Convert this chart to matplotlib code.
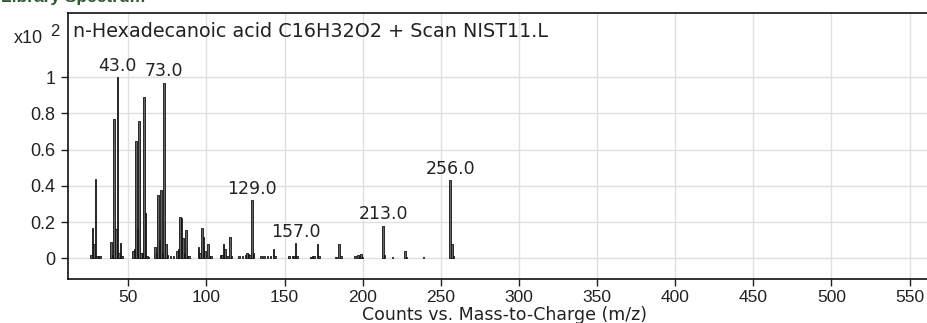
import matplotlib
matplotlib.use("Agg")
import matplotlib.pyplot as plt

# m/z values and relative intensities (%)
mz = [26, 27, 28, 29, 30, 31, 32,
      39, 40, 41, 42, 43, 44, 45, 46,
      53, 54, 55, 56, 57, 58, 59, 60, 61, 62, 63,
      67, 68, 69, 70, 71, 72, 73, 74, 75, 77, 79,
      81, 82, 83, 84, 85, 86, 87, 88, 89,
      95, 96, 97, 98, 99, 101, 102, 103,
      109, 110, 111, 112, 113, 115, 116,
      121, 123, 125, 126, 127, 128, 129, 130,
      135, 137, 139, 141, 143, 144,
      153, 155, 156, 157, 158,
      167, 168, 169, 171, 172,
      183, 185, 186,
      195, 197, 198, 199, 200,
      213, 214, 219, 227, 228, 239,
      256, 257, 258]
intensity = [2, 17, 8, 44, 1.5, 1.5, 1,
             9, 2, 77, 16, 100, 3, 8.5, 1,
             4, 5, 65, 16, 76, 3, 3, 89, 25, 1, 0.5,
             6, 3, 35, 10, 38, 3, 97, 8, 2, 1, 1,
             4, 5, 23, 22, 11, 3, 15.5, 1, 1,
             6, 3, 17, 12, 4, 8, 1, 1,
             2, 2, 7.7, 5, 1, 11.5, 1,
             1, 1.5, 2, 3, 2.5, 2, 32, 3,
             1, 1, 1.5, 1, 5, 1,
             1, 1.5, 1, 8.5, 1,
             0.5, 1, 1.5, 8, 1,
             0.5, 7.7, 1,
             1, 2, 1.5, 2.5, 0.5,
             18, 2, 0.5, 4, 0.5, 0.5,
             43, 8, 1]
label_mz = [43, 73, 129, 157, 213, 256]

title = "n-Hexadecanoic acid C16H32O2 + Scan NIST11.L"
xlabel = "Counts vs. Mass-to-Charge (m/z)"
xticks = [50, 100, 150, 200, 250, 300, 350, 400, 450, 500, 550]
yticks = [0, 0.2, 0.4, 0.6, 0.8, 1]
ytick_labels = ["0", "0.2", "0.4", "0.6", "0.8", "1"]

W, H = 928, 323
fig = plt.figure(figsize=(W / 100, H / 100), dpi=100)
left_px, right_px, top_px, bot_px = 67.7, 929, 13, 279
ax = fig.add_axes([left_px / W, 1 - bot_px / H, (right_px - left_px) / W, (bot_px - top_px) / H])

vals = [v / 100 for v in intensity]
ax.bar(mz, vals, width=1.0, color="#666666", edgecolor="#111111", linewidth=0.6, zorder=3)

for m in label_mz:
    v = intensity[mz.index(m)] / 100
    ax.annotate(f"{m:.1f}", xy=(m, v), xytext=(0, 4.5), textcoords="offset points",
                ha="center", va="baseline", fontsize=12.5, color="#222222",
                family="DejaVu Sans", zorder=4)

ax.set_xlim(11.2, 562.4)
ax.set_ylim(-0.1144, 1.3552)
ax.set_xticks(xticks)
ax.set_xticklabels([str(t) for t in xticks], family="Liberation Sans", fontsize=12.5, color="#222222")
ax.set_yticks(yticks)
ax.set_yticklabels(ytick_labels, family="Liberation Sans", fontsize=13, color="#222222")
ax.tick_params(axis="both", direction="out", length=5, width=1, color="#222222")
ax.tick_params(axis="x", pad=3)
ax.tick_params(axis="y", pad=4)
ax.grid(True, color="#e0e0e0", linewidth=1, zorder=0)
ax.set_axisbelow(True)
for s in ["left", "bottom", "top"]:
    ax.spines[s].set_color("#111111")
    ax.spines[s].set_linewidth(1.2)
ax.spines["right"].set_visible(False)

ax.text(73 / W, 1 - 36.7 / H, title, transform=fig.transFigure, fontsize=13.8,
        family="DejaVu Sans", color="#222222", va="baseline", ha="left")

fig.text(504.5 / W, 1 - 320 / H, xlabel, fontsize=12.5, family="DejaVu Sans",
         color="#222222", ha="center", va="baseline")

fig.text(43.3 / W, 1 - 42.7 / H, "x10", fontsize=13, family="Liberation Sans",
         color="#222222", ha="right", va="baseline")
fig.text(50 / W, 1 - 35.5 / H, "2", fontsize=12, family="Liberation Sans",
         color="#222222", ha="left", va="baseline")

fig.text(1 / W, 1 - 2 / H, "Library Spectrum", fontsize=12.5, family="Liberation Sans",
         fontweight="bold", color="#2e5a2e", ha="left", va="baseline")

fig.savefig("out.png", dpi=100)
